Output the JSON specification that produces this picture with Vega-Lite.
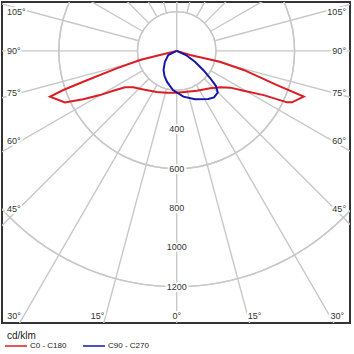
{
  "$schema": "https://vega.github.io/schema/vega-lite/v6.json",
  "width": 348,
  "height": 321,
  "autosize": {"type": "none"},
  "padding": {"left": 2, "top": 2, "right": 4, "bottom": 31},
  "config": {"view": {"stroke": "#333333", "strokeWidth": 2}, "font": "Liberation Sans"},
  "datasets": {
    "rings": [{"r": 200}, {"r": 400}, {"r": 600}, {"r": 800}, {"r": 1000}, {"r": 1200}, {"r": 1400}, {"r": 1600}, {"r": 1800}],
    "spokes": [
      {"a": 0, "r1": 200, "r2": 3000}, {"a": 15, "r1": 200, "r2": 3000}, {"a": 30, "r1": 200, "r2": 3000}, {"a": 45, "r1": 200, "r2": 3000},
      {"a": 60, "r1": 200, "r2": 3000}, {"a": 75, "r1": 200, "r2": 3000}, {"a": 90, "r1": 200, "r2": 3000}, {"a": 105, "r1": 200, "r2": 3000},
      {"a": 120, "r1": 200, "r2": 3000}, {"a": 135, "r1": 200, "r2": 3000}, {"a": 150, "r1": 200, "r2": 3000}, {"a": 165, "r1": 200, "r2": 3000},
      {"a": 180, "r1": 200, "r2": 3000}, {"a": 195, "r1": 200, "r2": 3000}, {"a": 210, "r1": 200, "r2": 3000}, {"a": 225, "r1": 200, "r2": 3000},
      {"a": 240, "r1": 200, "r2": 3000}, {"a": 255, "r1": 200, "r2": 3000}, {"a": 270, "r1": 200, "r2": 3000}, {"a": 285, "r1": 200, "r2": 3000},
      {"a": 300, "r1": 200, "r2": 3000}, {"a": 315, "r1": 200, "r2": 3000}, {"a": 330, "r1": 200, "r2": 3000}, {"a": 345, "r1": 200, "r2": 3000}
    ],
    "curves": [
      {"s": "C0 - C180", "i": 0, "x": 0, "y": 0},
      {"s": "C0 - C180", "i": 1, "x": -85, "y": -21},
      {"s": "C0 - C180", "i": 2, "x": -187, "y": -46},
      {"s": "C0 - C180", "i": 3, "x": -306, "y": -89},
      {"s": "C0 - C180", "i": 4, "x": -476, "y": -157},
      {"s": "C0 - C180", "i": 5, "x": -577, "y": -199},
      {"s": "C0 - C180", "i": 6, "x": -645, "y": -233},
      {"s": "C0 - C180", "i": 7, "x": -569, "y": -262},
      {"s": "C0 - C180", "i": 8, "x": -476, "y": -246},
      {"s": "C0 - C180", "i": 9, "x": -391, "y": -225},
      {"s": "C0 - C180", "i": 10, "x": -323, "y": -203},
      {"s": "C0 - C180", "i": 11, "x": -263, "y": -185},
      {"s": "C0 - C180", "i": 12, "x": -221, "y": -185},
      {"s": "C0 - C180", "i": 13, "x": -170, "y": -196},
      {"s": "C0 - C180", "i": 14, "x": -102, "y": -209},
      {"s": "C0 - C180", "i": 15, "x": -51, "y": -213},
      {"s": "C0 - C180", "i": 16, "x": 0, "y": -213},
      {"s": "C0 - C180", "i": 17, "x": 103, "y": -203},
      {"s": "C0 - C180", "i": 18, "x": 170, "y": -190},
      {"s": "C0 - C180", "i": 19, "x": 222, "y": -185},
      {"s": "C0 - C180", "i": 20, "x": 273, "y": -187},
      {"s": "C0 - C180", "i": 21, "x": 341, "y": -203},
      {"s": "C0 - C180", "i": 22, "x": 443, "y": -225},
      {"s": "C0 - C180", "i": 23, "x": 562, "y": -262},
      {"s": "C0 - C180", "i": 24, "x": 587, "y": -262},
      {"s": "C0 - C180", "i": 25, "x": 647, "y": -233},
      {"s": "C0 - C180", "i": 26, "x": 511, "y": -174},
      {"s": "C0 - C180", "i": 27, "x": 341, "y": -97},
      {"s": "C0 - C180", "i": 28, "x": 220, "y": -55},
      {"s": "C0 - C180", "i": 29, "x": 68, "y": -21},
      {"s": "C0 - C180", "i": 30, "x": 0, "y": 0},
      {"s": "C90 - C270", "i": 0, "x": 0, "y": 0},
      {"s": "C90 - C270", "i": 1, "x": -43, "y": -21},
      {"s": "C90 - C270", "i": 2, "x": -60, "y": -55},
      {"s": "C90 - C270", "i": 3, "x": -67, "y": -97},
      {"s": "C90 - C270", "i": 4, "x": -62, "y": -128},
      {"s": "C90 - C270", "i": 5, "x": -49, "y": -158},
      {"s": "C90 - C270", "i": 6, "x": -19, "y": -199},
      {"s": "C90 - C270", "i": 7, "x": 34, "y": -233},
      {"s": "C90 - C270", "i": 8, "x": 93, "y": -246},
      {"s": "C90 - C270", "i": 9, "x": 161, "y": -245},
      {"s": "C90 - C270", "i": 10, "x": 190, "y": -237},
      {"s": "C90 - C270", "i": 11, "x": 209, "y": -212},
      {"s": "C90 - C270", "i": 12, "x": 200, "y": -179},
      {"s": "C90 - C270", "i": 13, "x": 170, "y": -138},
      {"s": "C90 - C270", "i": 14, "x": 135, "y": -97},
      {"s": "C90 - C270", "i": 15, "x": 93, "y": -55},
      {"s": "C90 - C270", "i": 16, "x": 47, "y": -21},
      {"s": "C90 - C270", "i": 17, "x": 0, "y": 0}
    ],
    "ringLabels": [
      {"x": 0, "y": -400, "t": "400"}, {"x": 0, "y": -600, "t": "600"}, {"x": 0, "y": -800, "t": "800"},
      {"x": 0, "y": -1000, "t": "1000"}, {"x": 0, "y": -1200, "t": "1200"}
    ],
    "angleLabels": [
      {"side": "L", "x": -864, "y": 198, "t": "105°"},
      {"side": "L", "x": -864, "y": 0, "t": "90°"},
      {"side": "L", "x": -864, "y": -212, "t": "75°"},
      {"side": "L", "x": -864, "y": -459, "t": "60°"},
      {"side": "L", "x": -864, "y": -806, "t": "45°"},
      {"side": "R", "x": 862, "y": 198, "t": "105°"},
      {"side": "R", "x": 862, "y": 0, "t": "90°"},
      {"side": "R", "x": 862, "y": -212, "t": "75°"},
      {"side": "R", "x": 862, "y": -459, "t": "60°"},
      {"side": "R", "x": 862, "y": -806, "t": "45°"},
      {"side": "C", "x": -828, "y": -1352, "t": "30°"},
      {"side": "C", "x": -403, "y": -1352, "t": "15°"},
      {"side": "C", "x": 0, "y": -1352, "t": "0°"},
      {"side": "C", "x": 396, "y": -1352, "t": "15°"},
      {"side": "C", "x": 818, "y": -1352, "t": "30°"}
    ],
    "unitLabel": [{"x": -864, "y": -1452, "t": "cd/klm"}]
  },
  "layer": [
    {
      "data": {"name": "rings"},
      "mark": {"type": "arc", "fill": null, "stroke": "#c8c8c8", "strokeWidth": 1.4, "theta": 0, "theta2": 6.2831853, "clip": true},
      "encoding": {
        "x": {"datum": 0, "type": "quantitative", "scale": {"domain": [-889.5, 882.4], "nice": false, "zero": false}, "axis": null},
        "y": {"datum": 0, "type": "quantitative", "scale": {"domain": [-1385.4, 249], "nice": false, "zero": false}, "axis": null},
        "radius": {"field": "r", "type": "quantitative", "scale": {"type": "linear", "domain": [0, 1400], "range": [0, 274.96], "zero": true}}
      }
    },
    {
      "data": {"name": "spokes"},
      "mark": {"type": "arc", "fill": null, "stroke": "#c8c8c8", "strokeWidth": 1.4, "clip": true},
      "encoding": {
        "x": {"datum": 0, "type": "quantitative", "scale": {"domain": [-889.5, 882.4], "nice": false, "zero": false}, "axis": null},
        "y": {"datum": 0, "type": "quantitative", "scale": {"domain": [-1385.4, 249], "nice": false, "zero": false}, "axis": null},
        "theta": {"field": "a", "type": "quantitative", "scale": {"type": "linear", "domain": [0, 360], "range": [0, 6.2831853]}},
        "theta2": {"field": "a"},
        "radius": {"field": "r1", "type": "quantitative", "scale": {"type": "linear", "domain": [0, 1400], "range": [0, 274.96], "zero": true}},
        "radius2": {"field": "r2"}
      }
    },
    {
      "data": {"name": "curves"},
      "mark": {"type": "line", "strokeWidth": 2, "clip": true},
      "encoding": {
        "x": {"field": "x", "type": "quantitative", "scale": {"domain": [-889.5, 882.4], "nice": false, "zero": false}, "axis": null},
        "y": {"field": "y", "type": "quantitative", "scale": {"domain": [-1385.4, 249], "nice": false, "zero": false}, "axis": null},
        "order": {"field": "i", "type": "quantitative"},
        "color": {
          "field": "s", "type": "nominal",
          "scale": {"domain": ["C0 - C180", "C90 - C270"], "range": ["#dd1c24", "#1616a8"]},
          "legend": {
            "title": null, "orient": "none", "legendX": 2, "legendY": 332, "direction": "horizontal", "padding": 0,
            "labelFontSize": 8, "labelColor": "#222222", "symbolType": "stroke", "symbolSize": 484,
            "symbolStrokeWidth": 1.5, "labelOffset": 2, "columnPadding": 13
          }
        }
      }
    },
    {
      "data": {"name": "unitLabel"},
      "mark": {"type": "text", "fontSize": 10, "fill": "#222222", "align": "left", "baseline": "middle"},
      "encoding": {
        "x": {"field": "x", "type": "quantitative"},
        "y": {"field": "y", "type": "quantitative"},
        "text": {"field": "t"}
      }
    },
    {
      "data": {"name": "ringLabels"},
      "mark": {"type": "text", "fontSize": 9, "stroke": "white", "strokeWidth": 4, "fill": "white", "align": "center", "baseline": "middle"},
      "encoding": {
        "x": {"field": "x", "type": "quantitative"},
        "y": {"field": "y", "type": "quantitative"},
        "text": {"field": "t"}
      }
    },
    {
      "data": {"name": "ringLabels"},
      "mark": {"type": "text", "fontSize": 9, "fill": "#333333", "align": "center", "baseline": "middle"},
      "encoding": {
        "x": {"field": "x", "type": "quantitative"},
        "y": {"field": "y", "type": "quantitative"},
        "text": {"field": "t"}
      }
    },
    {
      "data": {"name": "angleLabels"},
      "transform": [{"filter": "datum.side == 'L'"}],
      "mark": {"type": "text", "fontSize": 9, "stroke": "white", "strokeWidth": 4, "fill": "white", "align": "left", "baseline": "middle"},
      "encoding": {"x": {"field": "x", "type": "quantitative"}, "y": {"field": "y", "type": "quantitative"}, "text": {"field": "t"}}
    },
    {
      "data": {"name": "angleLabels"},
      "transform": [{"filter": "datum.side == 'L'"}],
      "mark": {"type": "text", "fontSize": 9, "fill": "#333333", "align": "left", "baseline": "middle"},
      "encoding": {"x": {"field": "x", "type": "quantitative"}, "y": {"field": "y", "type": "quantitative"}, "text": {"field": "t"}}
    },
    {
      "data": {"name": "angleLabels"},
      "transform": [{"filter": "datum.side == 'R'"}],
      "mark": {"type": "text", "fontSize": 9, "stroke": "white", "strokeWidth": 4, "fill": "white", "align": "right", "baseline": "middle"},
      "encoding": {"x": {"field": "x", "type": "quantitative"}, "y": {"field": "y", "type": "quantitative"}, "text": {"field": "t"}}
    },
    {
      "data": {"name": "angleLabels"},
      "transform": [{"filter": "datum.side == 'R'"}],
      "mark": {"type": "text", "fontSize": 9, "fill": "#333333", "align": "right", "baseline": "middle"},
      "encoding": {"x": {"field": "x", "type": "quantitative"}, "y": {"field": "y", "type": "quantitative"}, "text": {"field": "t"}}
    },
    {
      "data": {"name": "angleLabels"},
      "transform": [{"filter": "datum.side == 'C'"}],
      "mark": {"type": "text", "fontSize": 9, "stroke": "white", "strokeWidth": 4, "fill": "white", "align": "center", "baseline": "middle"},
      "encoding": {"x": {"field": "x", "type": "quantitative"}, "y": {"field": "y", "type": "quantitative"}, "text": {"field": "t"}}
    },
    {
      "data": {"name": "angleLabels"},
      "transform": [{"filter": "datum.side == 'C'"}],
      "mark": {"type": "text", "fontSize": 9, "fill": "#333333", "align": "center", "baseline": "middle"},
      "encoding": {"x": {"field": "x", "type": "quantitative"}, "y": {"field": "y", "type": "quantitative"}, "text": {"field": "t"}}
    }
  ]
}
